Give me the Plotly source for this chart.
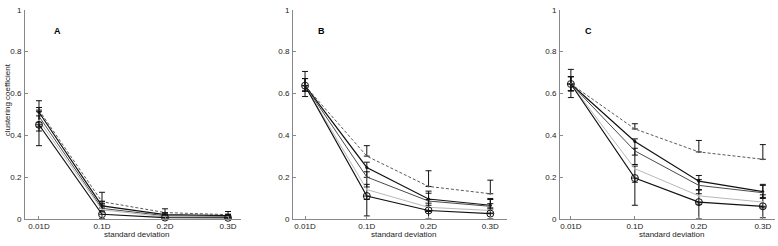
import plotly.graph_objects as go

categories = ["0.01D", "0.1D", "0.2D", "0.3D"]
xpos = [0, 1, 2, 3]

# Panel A series (top -> bottom)
a_dash = [0.52, 0.082, 0.030, 0.020]
a_s2 = [0.51, 0.062, 0.020, 0.015]
a_s3 = [0.49, 0.050, 0.015, 0.011]
a_s4 = [0.47, 0.043, 0.010, 0.008]
a_circ = [0.45, 0.022, 0.006, 0.005]
a_err_up = [0.045, 0.045, 0.018, 0.015]
a_err_dn = [0.10, 0.02, 0.006, 0.005]

# Panel B
b_dash = [0.637, 0.300, 0.155, 0.120]
b_s2 = [0.637, 0.246, 0.095, 0.065]
b_s3 = [0.637, 0.200, 0.085, 0.060]
b_s4 = [0.637, 0.140, 0.055, 0.040]
b_circ = [0.637, 0.109, 0.040, 0.025]
b_err_up = [0.068, 0.05, 0.075, 0.065]
b_err_dn = [0.052, 0.095, 0.040, 0.025]

# Panel C
c_dash = [0.645, 0.430, 0.320, 0.285]
c_s2 = [0.645, 0.370, 0.180, 0.130]
c_s3 = [0.645, 0.325, 0.160, 0.125]
c_s4 = [0.645, 0.240, 0.110, 0.080]
c_circ = [0.645, 0.195, 0.080, 0.060]
c_err_up = [0.070, 0.025, 0.055, 0.070]
c_err_dn = [0.065, 0.13, 0.08, 0.055]

panels = [
    ("A", [a_dash, a_s2, a_s3, a_s4, a_circ], a_err_up, a_err_dn),
    ("B", [b_dash, b_s2, b_s3, b_s4, b_circ], b_err_up, b_err_dn),
    ("C", [c_dash, c_s2, c_s3, c_s4, c_circ], c_err_up, c_err_dn),
]

W, H = 778, 246
xdoms = [(25, 241), (293, 507), (560, 775)]
xranges = [(-0.222, 3.206), (-0.195, 3.27), (-0.17, 3.19)]
ydom = [(H - 223) / H, (H - 6) / H]
label_x = [57, 321, 588]

styles = [
    dict(color="#5a5a5a", dash="3px,2px", width=1),
    dict(color="#111111", dash="solid", width=1.2),
    dict(color="#4a4a4a", dash="solid", width=1),
    dict(color="#b8b8b8", dash="solid", width=1),
    dict(color="#111111", dash="solid", width=1.2),
]
markers = [
    dict(size=2, color="#5a5a5a"),
    dict(size=3, color="#111111"),
    dict(size=2, color="#4a4a4a"),
    dict(size=2, color="#b8b8b8"),
    dict(symbol="circle-open", size=7, color="#111111", line=dict(width=1, color="#111111")),
]

fig = go.Figure()
font = dict(family="Liberation Sans, Arial, sans-serif", size=8, color="#222")

for i, (lab, series, eu, ed) in enumerate(panels):
    xa = "x" if i == 0 else f"x{i+1}"
    ya = "y" if i == 0 else f"y{i+1}"
    for j, s in enumerate(series):
        if j == 0:
            err = dict(type="data", array=eu, arrayminus=[0] * 4, symmetric=False,
                       color="#111", thickness=1, width=3)
        elif j == 4:
            err = dict(type="data", array=[0] * 4, arrayminus=ed, symmetric=False,
                       color="#111", thickness=1, width=3)
        else:
            err = dict(type="data", array=[e * 0.5 for e in eu], arrayminus=[e * 0.5 for e in ed],
                       symmetric=False, color="#111", thickness=1, width=3)
        fig.add_trace(go.Scatter(x=xpos, y=s, mode="lines+markers", line=styles[j],
                                 marker=markers[j], error_y=err, xaxis=xa, yaxis=ya,
                                 cliponaxis=False, showlegend=False, hoverinfo="skip"))
    xk = "xaxis" if i == 0 else f"xaxis{i+1}"
    yk = "yaxis" if i == 0 else f"yaxis{i+1}"
    d = xdoms[i]
    fig.update_layout(**{
        xk: dict(domain=[d[0] / W, d[1] / W], range=list(xranges[i]), anchor=ya,
                 tickvals=xpos, ticktext=categories, showgrid=False, zeroline=False,
                 showline=True, linecolor="#888", linewidth=1, ticks="inside", ticklen=3,
                 tickcolor="#888", tickfont=font, ticklabelstandoff=0),
        yk: dict(domain=ydom, range=[0, 1], anchor=xa, tickvals=[0, 0.2, 0.4, 0.6, 0.8, 1],
                 ticktext=["0", "0.2", "0.4", "0.6", "0.8", "1"], showgrid=False, zeroline=False,
                 showline=True, linecolor="#888", linewidth=1, ticks="inside", ticklen=3,
                 tickcolor="#888", tickfont=font, ticklabelstandoff=1),
    })
    fig.add_annotation(x=(d[0] + d[1]) / 2 / W + 0.005, y=(H - 239) / H, xref="paper", yref="paper",
                       text="standard deviation", showarrow=False, font=font,
                       xanchor="center", yanchor="middle")
    fig.add_annotation(x=label_x[i] / W, y=(H - 28) / H, xref="paper", yref="paper",
                       text=f"<b>{lab}</b>", showarrow=False, xanchor="center", yanchor="middle",
                       font=dict(family="Liberation Sans, Arial, sans-serif", size=9, color="#000"))

fig.add_annotation(x=7 / W, y=(H - 100) / H, xref="paper", yref="paper",
                   text="clustering coefficient", showarrow=False, textangle=-90, font=font,
                   xanchor="center", yanchor="middle")

fig.update_layout(width=W, height=H, margin=dict(l=0, r=0, t=0, b=0),
                  paper_bgcolor="white", plot_bgcolor="white")
fig.write_html("out.html", config={"displayModeBar": False},
               post_script="document.body.style.margin='0';document.body.style.overflow='hidden';")
